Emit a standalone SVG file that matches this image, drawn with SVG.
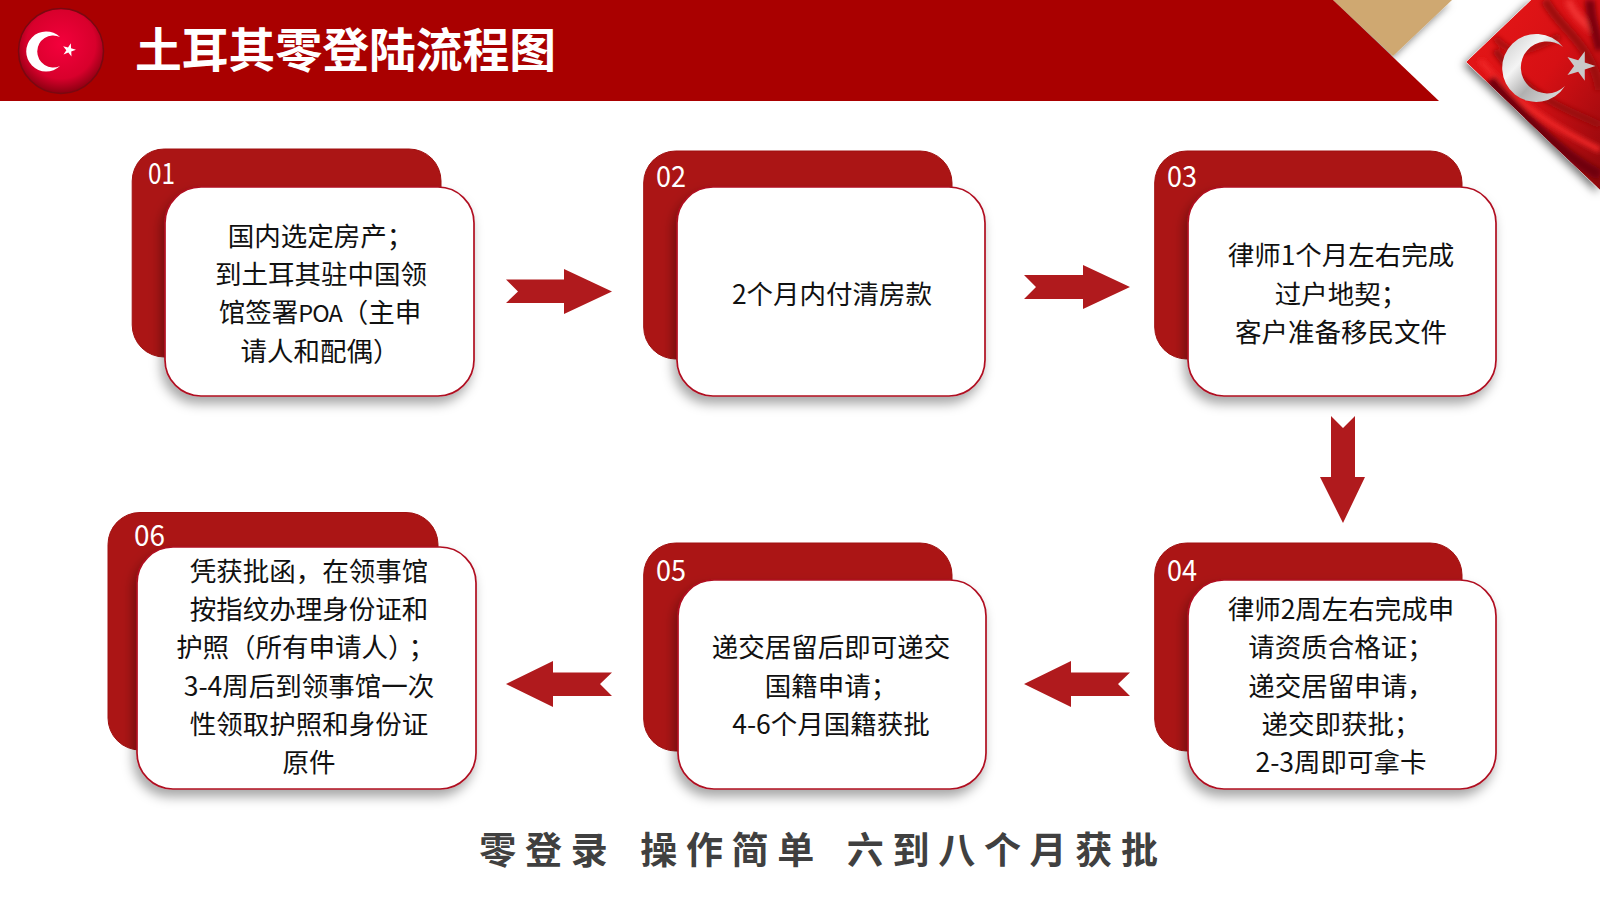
<svg xmlns="http://www.w3.org/2000/svg" width="1600" height="900" viewBox="0 0 1600 900">
<style>
text{font-family:"Noto Sans CJK SC","Noto Sans",sans-serif}
.back{fill:#ab1515;stroke:#a01010;stroke-width:1}
.front{fill:#fff;stroke:#b01020;stroke-width:1.700;filter:url(#sh)}
.num{fill:#fff;font-size:29px}
.t{fill:#111;font-size:26.500px;text-anchor:middle}
.arrow{fill:#b01a1d}
</style>
<defs>
<filter id="sh" x="-15%" y="-15%" width="130%" height="130%"><feDropShadow dx="-3" dy="7" stdDeviation="6" flood-color="#000" flood-opacity=".35"/></filter>
<filter id="sh2" x="-15%" y="-15%" width="130%" height="130%"><feDropShadow dx="-3" dy="3" stdDeviation="4" flood-color="#000" flood-opacity=".55"/></filter>
<filter id="bl" x="-30%" y="-30%" width="160%" height="160%"><feGaussianBlur stdDeviation="2.500"/></filter>
<radialGradient id="badge" cx=".5" cy=".42" r=".58"><stop offset="0" stop-color="#f4003c"/><stop offset=".7" stop-color="#d8002c"/><stop offset="1" stop-color="#8a0010"/></radialGradient>
<linearGradient id="silver" x1="0" y1="0" x2="1" y2="1"><stop offset="0" stop-color="#c8c8c8"/><stop offset=".35" stop-color="#f4f4f4"/><stop offset=".6" stop-color="#b0b0b0"/><stop offset="1" stop-color="#e4e4e4"/></linearGradient>
<linearGradient id="flagbg" x1="0" y1="0" x2="1" y2="1"><stop offset="0" stop-color="#e81818"/><stop offset=".5" stop-color="#d61014"/><stop offset="1" stop-color="#8c080c"/></linearGradient>
<clipPath id="fc"><polygon points="1466,62 1531,0 1600,0 1600,190"/></clipPath>
<polygon id="star" points="0,-1 .2245,-.309 .951,-.309 .363,.118 .588,.809 0,.382 -.588,.809 -.363,.118 -.951,-.309 -.2245,-.309"/>
</defs>
<rect width="1600" height="900" fill="#fff"/>
<g id="header">
<polygon points="1333,0 1452,0 1393,56" fill="#cfa871" filter="url(#sh2)"/>
<polygon points="0,0 1333,0 1439,101 0,101" fill="#a90000"/>
<g id="badge-icon">
<circle cx="61" cy="51" r="42.500" fill="url(#badge)" stroke="#7a0810" stroke-width="1.500"/>
<path d="M60 37A20 20 0 1 0 60 66A16 16 0 1 1 60 37Z" fill="#fff"/>
<use href="#star" transform="translate(69 50) rotate(15) scale(7)" fill="#fff"/>
</g>
<text x="135" y="67" font-size="46.800" font-weight="700" fill="#fff">土耳其零登陆流程图</text>
<g id="flag">
<polygon points="1466,62 1531,0 1600,0 1600,190" fill="#fff" filter="url(#sh2)"/>
<g clip-path="url(#fc)">
<polygon points="1466,62 1531,0 1600,0 1600,190" fill="url(#flagbg)"/>
<g fill="none" filter="url(#bl)">
<path d="M1545 0C1560 30 1590 40 1600 90" stroke="#9c0a0e" stroke-width="9"/>
<path d="M1568 0C1576 20 1590 25 1600 40" stroke="#f03030" stroke-width="8"/>
<path d="M1590 0C1590 20 1596 30 1600 50" stroke="#7c060a" stroke-width="10"/>
<path d="M1495 38C1515 60 1530 50 1560 36" stroke="#a80c10" stroke-width="7"/>
<path d="M1495 50C1530 100 1570 110 1600 125" stroke="#980a0e" stroke-width="7"/>
<path d="M1480 60C1520 110 1570 135 1600 150" stroke="#f02828" stroke-width="6"/>
<path d="M1490 80C1530 125 1570 160 1600 175" stroke="#70060a" stroke-width="11"/>
</g>
<path d="M1563 47A34 34 0 1 0 1565 86A26 26 0 1 1 1563 47Z" fill="url(#silver)"/>
<use href="#star" transform="translate(1580 66) rotate(18) scale(15.500)" fill="#c9c9c9"/>
</g>
</g>
</g>
<g id="connectors">
<polygon class="arrow" points="506,279.500 564,279.500 564,269 612,291.500 564,314 564,303 506,303 518,291.500"/>
<polygon class="arrow" points="1024,275 1083,275 1083,265 1130,287 1083,309 1083,299 1024,299 1036,287"/>
<polygon class="arrow" points="1331,416 1343,428 1355,416 1355,477 1365,477 1343,523 1320,477 1331,477"/>
<polygon class="arrow" points="612,672.500 600,684 612,696 553,696 553,707 506,684 553,661 553,672.500"/>
<polygon class="arrow" points="1130,672.500 1118,684 1130,696 1071,696 1071,707 1024,684 1071,661 1071,672.500"/>
</g>
<g id="node-01">
<rect class="back" x="132.200" y="149" width="308.800" height="208" rx="32"/>
<rect class="front" x="165" y="187" width="309" height="209" rx="36"/>
<text class="num" x="148" y="184" textLength="27" lengthAdjust="spacingAndGlyphs">01</text>
<text class="t" x="320.500" y="246">国内选定房产；</text>
<text class="t" x="321" y="284">到土耳其驻中国领</text>
<text class="t" x="320" y="322">馆签署<tspan font-size="23.500" letter-spacing="-1">POA</tspan>（主申</text>
<text class="t" x="320" y="360.500">请人和配偶）</text>
</g>
<g id="node-02">
<rect class="back" x="643.700" y="151" width="308.300" height="208" rx="32"/>
<rect class="front" x="677" y="187" width="308" height="209" rx="36"/>
<text class="num" x="656" y="186.500" textLength="30" lengthAdjust="spacingAndGlyphs">02</text>
<text class="t" x="832" y="304">2个月内付清房款</text>
</g>
<g id="node-03">
<rect class="back" x="1154.700" y="151" width="307.300" height="208" rx="32"/>
<rect class="front" x="1188" y="187" width="308" height="209" rx="36"/>
<text class="num" x="1167" y="186.500" textLength="30" lengthAdjust="spacingAndGlyphs">03</text>
<text class="t" x="1341" y="265">律师1个月左右完成</text>
<text class="t" x="1341" y="304">过户地契；</text>
<text class="t" x="1341" y="342">客户准备移民文件</text>
</g>
<g id="node-04">
<rect class="back" x="1154.700" y="543" width="307.300" height="208" rx="32"/>
<rect class="front" x="1188" y="580" width="308" height="209" rx="36"/>
<text class="num" x="1167" y="580.500" textLength="30" lengthAdjust="spacingAndGlyphs">04</text>
<text class="t" x="1341" y="619">律师2周左右完成申</text>
<text class="t" x="1341" y="657">请资质合格证；</text>
<text class="t" x="1341" y="696">递交居留申请，</text>
<text class="t" x="1341" y="734">递交即获批；</text>
<text class="t" x="1341" y="772">2-3周即可拿卡</text>
</g>
<g id="node-05">
<rect class="back" x="643.700" y="543" width="308.300" height="208" rx="32"/>
<rect class="front" x="678" y="580" width="308" height="209" rx="36"/>
<text class="num" x="656" y="580.500" textLength="30" lengthAdjust="spacingAndGlyphs">05</text>
<text class="t" x="831" y="657">递交居留后即可递交</text>
<text class="t" x="831" y="696">国籍申请；</text>
<text class="t" x="831" y="734">4-6个月国籍获批</text>
</g>
<g id="node-06">
<rect class="back" x="108" y="512.500" width="330" height="237.500" rx="32"/>
<rect class="front" x="137" y="547" width="339" height="242" rx="36"/>
<text class="num" x="134" y="545.500" textLength="31" lengthAdjust="spacingAndGlyphs">06</text>
<text class="t" x="309" y="581">凭获批函，在领事馆</text>
<text class="t" x="309" y="619">按指纹办理身份证和</text>
<text class="t" x="305.500" y="657">护照（所有申请人）<tspan dx="7">；</tspan></text>
<text class="t" x="309" y="696">3-4周后到领事馆一次</text>
<text class="t" x="309" y="734">性领取护照和身份证</text>
<text class="t" x="309" y="772">原件</text>
</g>
<text id="footer" x="823" y="864" font-size="37" font-weight="700" fill="#404040" letter-spacing="8.700" word-spacing="-5.200" text-anchor="middle" xml:space="preserve">零登录  操作简单  六到八个月获批</text>
</svg>
